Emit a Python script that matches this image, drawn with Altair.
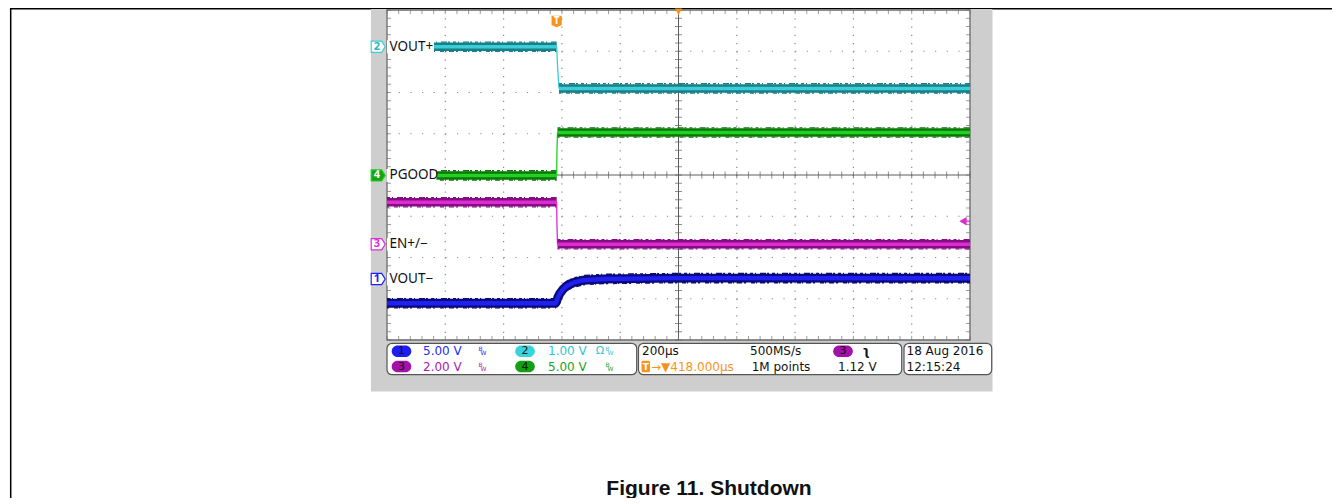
import altair as alt
import pandas as pd
import numpy as np

# ---------------- data (time in µs from trigger, amplitude in screen divisions) ----------------
SCREEN_T = [-582, 1418]          # 10 div x 200 µs, screen centre at +418 µs
SCREEN_DIV = [-4, 4]             # 8 vertical divisions
CENTER_T = 418
MAJOR_T = [-382, -182, 18, 218, 618, 818, 1018, 1218]
MAJOR_DIV = [-3, -2, -1, 1, 2, 3]
MINOR_T = list(np.arange(-582, 1418.5, 40.0))
MINOR_DIV = list(np.round(np.arange(-4, 4.01, 0.2), 2))

# CH2  VOUT+  (cyan)
CH2_PRE_T, CH2_PRE_V = [-582, 0], [3.11, 3.11]
CH2_STEP_T, CH2_STEP_V = [0, 3, 8], [3.11, 2.65, 2.10]
CH2_POST_T, CH2_POST_V = [8, 1418], [2.10, 2.10]
# CH4  PGOOD  (green)
CH4_PRE_T, CH4_PRE_V = [-582, 0], [-0.01, -0.01]
CH4_STEP_T, CH4_STEP_V = [0, 1, 3], [-0.01, 0.6, 1.03]
CH4_POST_T, CH4_POST_V = [3, 1418], [1.03, 1.03]
# CH3  EN+/-  (magenta)
CH3_PRE_T, CH3_PRE_V = [-582, 0], [-0.66, -0.66]
CH3_STEP_T, CH3_STEP_V = [0, 1, 3], [-0.66, -1.2, -1.68]
CH3_POST_T, CH3_POST_V = [3, 1418], [-1.68, -1.68]
# CH1  VOUT-  (blue)
CH1_T = [-582, -4, 0, 4, 11, 22, 34, 57, 91, 160, 400, 1418]
CH1_V = [-3.11, -3.11, -3.06, -2.97, -2.87, -2.77, -2.69, -2.61, -2.55, -2.52, -2.50, -2.50]
CH3_TRIG_LEVEL = -1.12

CH_NUM = ["2", "4", "3", "1"]
CH_LABEL = ["VOUT+", "PGOOD", "EN+/\u2212", "VOUT\u2212"]
CH_MARK_DIV = [3.11, -0.01, -1.68, -2.52]

CAPTION = "Figure 11. Shutdown"

# ---------------- styling ----------------
CYAN, CYAN_D = "#3ccdd6", "#177f88"
GREEN, GREEN_D = "#22d022", "#0a760a"
MAG, MAG_D = "#dc2cd4", "#860c82"
BLUE, BLUE_D = "#2020f2", "#0a0a78"
ORANGE = "#f7941d"
FONT = "Noto Sans"
SFONT = "DejaVu Sans"

xs = alt.Scale(domain=SCREEN_T, nice=False, zero=False)
ys = alt.Scale(domain=SCREEN_DIV, nice=False, zero=False)
X = lambda f="t": alt.X(f"{f}:Q", scale=xs, axis=None)
Y = lambda f="v": alt.Y(f"{f}:Q", scale=ys, axis=None)
PX = lambda f="x": alt.X(f"{f}:Q", scale=None, axis=None)
PY = lambda f="y": alt.Y(f"{f}:Q", scale=None, axis=None)
one = pd.DataFrame({"a": [0]})

layers = []


def px_rect(x, x2, y, y2, **mark):
    df = pd.DataFrame({"x": [x], "x2": [x2], "y": [y], "y2": [y2]})
    return alt.Chart(df).mark_rect(**mark).encode(x=PX(), x2="x2:Q", y=PY(), y2="y2:Q")


def px_text(rows, **mark):
    df = pd.DataFrame(rows, columns=["x", "y", "text", "color"])
    return alt.Chart(df).mark_text(**mark).encode(
        x=PX(), y=PY(), text="text:N", color=alt.Color("color:N", scale=None))


# page frame lines (PDF page)
layers.append(alt.Chart(one).mark_rule(color="#000", strokeWidth=1.5).encode(
    x=alt.value(-376.3), y=alt.value(-2), y2=alt.value(488)))
layers.append(alt.Chart(one).mark_rule(color="#000", strokeWidth=1.5).encode(
    x=alt.value(-377), x2=alt.value(945), y=alt.value(-1.3)))

# scope screen gray panel
layers.append(px_rect(-16, 605.5, -1, 381.5, color="#cecece"))
# graticule background
layers.append(alt.Chart(pd.DataFrame({"t": [SCREEN_T[0]], "t2": [SCREEN_T[1]], "v": [SCREEN_DIV[0]], "v2": [SCREEN_DIV[1]]}))
              .mark_rect(color="white").encode(x=X(), x2="t2:Q", y=Y(), y2="v2:Q"))

# dotted grid
layers.append(alt.Chart(pd.DataFrame({"t": MAJOR_T})).mark_rule(
    color="#8a8a8a", strokeWidth=1.2, strokeDash=[1.2, 7.05]).encode(
    x=X(), y=alt.value(0), y2=alt.value(330)))
layers.append(alt.Chart(pd.DataFrame({"v": MAJOR_DIV})).mark_rule(
    color="#8a8a8a", strokeWidth=1.2, strokeDash=[1.2, 10.46]).encode(
    y=Y(), x=alt.value(0), x2=alt.value(583)))
# centre cross
layers.append(alt.Chart(pd.DataFrame({"t": [CENTER_T]})).mark_rule(color="#5c5c5c", strokeWidth=1).encode(
    x=X(), y=alt.value(0), y2=alt.value(330)))
layers.append(alt.Chart(pd.DataFrame({"v": [0]})).mark_rule(color="#5c5c5c", strokeWidth=1).encode(
    y=Y(), x=alt.value(0), x2=alt.value(583)))
mt = pd.DataFrame({"t": MINOR_T})
md = pd.DataFrame({"v": MINOR_DIV})
layers.append(alt.Chart(md).mark_tick(orient="horizontal", size=7, thickness=1, color="#5c5c5c").encode(
    x=alt.X(datum=CENTER_T, scale=xs, axis=None), y=Y()))
layers.append(alt.Chart(mt).mark_tick(orient="vertical", size=7, thickness=1, color="#5c5c5c").encode(
    x=X(), y=alt.Y(datum=0, scale=ys, axis=None)))
# border ticks
layers.append(alt.Chart(mt).mark_tick(orient="vertical", size=4, thickness=1, color="#707070", yOffset=2).encode(
    x=X(), y=alt.Y(datum=SCREEN_DIV[1], scale=ys, axis=None)))
layers.append(alt.Chart(mt).mark_tick(orient="vertical", size=4, thickness=1, color="#707070", yOffset=-2).encode(
    x=X(), y=alt.Y(datum=SCREEN_DIV[0], scale=ys, axis=None)))
layers.append(alt.Chart(md).mark_tick(orient="horizontal", size=4, thickness=1, color="#707070", xOffset=2).encode(
    x=alt.X(datum=SCREEN_T[0], scale=xs, axis=None), y=Y()))
layers.append(alt.Chart(md).mark_tick(orient="horizontal", size=4, thickness=1, color="#707070", xOffset=-2).encode(
    x=alt.X(datum=SCREEN_T[1], scale=xs, axis=None), y=Y()))
# frame
layers.append(alt.Chart(pd.DataFrame({"t": [SCREEN_T[0]], "t2": [SCREEN_T[1]], "v": [SCREEN_DIV[0]], "v2": [SCREEN_DIV[1]]}))
              .mark_rect(fillOpacity=0, stroke="#6a6a6a", strokeWidth=1.3).encode(x=X(), x2="t2:Q", y=Y(), y2="v2:Q"))


def band(t, v, core, edge, w_edge=8.5, w_core=3.5):
    base = alt.Chart(pd.DataFrame({"t": t, "v": v})).encode(x=X(), y=Y())
    return [
        base.mark_line(color=edge, strokeWidth=w_edge, strokeCap="butt", strokeJoin="round"),
        base.mark_line(color=edge, strokeWidth=1.4, yOffset=-4.6, strokeDash=[3, 2, 1, 4, 6, 1, 2, 3], strokeCap="butt"),
        base.mark_line(color=edge, strokeWidth=1.4, yOffset=4.6, strokeDash=[2, 5, 4, 1, 1, 3, 5, 2], strokeCap="butt"),
        base.mark_line(color=core, strokeWidth=w_core, strokeCap="butt", strokeJoin="round"),
    ]


def step(t, v, core):
    return alt.Chart(pd.DataFrame({"t": t, "v": v})).mark_line(color=core, strokeWidth=1.3).encode(x=X(), y=Y())


layers += band(CH2_PRE_T, CH2_PRE_V, CYAN, CYAN_D) + [step(CH2_STEP_T, CH2_STEP_V, CYAN)] + band(CH2_POST_T, CH2_POST_V, CYAN, CYAN_D)
layers += band(CH4_PRE_T, CH4_PRE_V, GREEN, GREEN_D) + [step(CH4_STEP_T, CH4_STEP_V, GREEN)] + band(CH4_POST_T, CH4_POST_V, GREEN, GREEN_D)
layers += band(CH3_PRE_T, CH3_PRE_V, MAG, MAG_D) + [step(CH3_STEP_T, CH3_STEP_V, MAG)] + band(CH3_POST_T, CH3_POST_V, MAG, MAG_D)
layers += band(CH1_T, CH1_V, BLUE, BLUE_D, w_edge=9, w_core=4.5)

# channel labels on the graticule
lab = pd.DataFrame({
    "num": CH_NUM, "label": CH_LABEL, "v": CH_MARK_DIV,
    "col": [CYAN, GREEN, MAG, BLUE],
    "fill": ["white", "#17a317", "white", "white"],
    "numcol": ["#2ab8c2", "white", MAG, BLUE],
    "x": [-8.8] * 4, "tx": [2.5] * 4, "nx": [-10] * 4,
})
for i, (bgx, bgw) in enumerate([(23.5, 47), (24.5, 50), (23, 46), (23, 46)]):
    layers.append(alt.Chart(lab.iloc[[i]]).mark_tick(orient="vertical", size=13, thickness=bgw, color="white", opacity=1).encode(
        x=alt.value(bgx), y=Y()))
layers.append(alt.Chart(lab).mark_text(align="left", baseline="middle", font=FONT, fontSize=13.5, color="#111").encode(
    x=PX("tx"), y=Y(), text="label:N"))
layers.append(alt.Chart(lab).mark_point(
    shape="M-1,-0.8L0.5,-0.8L1,0L0.5,0.8L-1,0.8Z", size=196, filled=True, strokeWidth=1.2, opacity=1).encode(
    x=PX("x"), y=Y(), fill=alt.Color("fill:N", scale=None), stroke=alt.Stroke("col:N", scale=None)))
layers.append(alt.Chart(lab).mark_text(align="center", baseline="middle", font=FONT, fontSize=11, fontWeight="bold").encode(
    x=PX("nx"), y=Y(), text="num:N", color=alt.Color("numcol:N", scale=None)))

# trigger position marker "T", horizontal-position marker, trigger level arrow
layers.append(alt.Chart(one).mark_point(shape="M-0.9,-1L0.9,-1L0.9,0.6L0,1L-0.9,0.6Z", size=130, filled=True, color=ORANGE, opacity=1).encode(
    x=alt.X(datum=0, scale=xs, axis=None), y=alt.value(11.5)))
layers.append(alt.Chart(one).mark_text(text="T", font=FONT, fontSize=10, fontWeight="bold", color="white").encode(
    x=alt.X(datum=0, scale=xs, axis=None), y=alt.value(10.8)))
layers.append(alt.Chart(one).mark_point(shape="triangle-down", size=55, filled=True, color=ORANGE, opacity=1).encode(
    x=alt.X(datum=CENTER_T, scale=xs, axis=None), y=alt.value(1.8)))
layers.append(alt.Chart(one).mark_point(shape="triangle-left", size=70, filled=True, color=MAG, opacity=1, xOffset=-7).encode(
    x=alt.X(datum=SCREEN_T[1], scale=xs, axis=None), y=alt.Y(datum=CH3_TRIG_LEVEL, scale=ys, axis=None)))
layers.append(alt.Chart(one).mark_tick(orient="horizontal", size=6, thickness=2, color=MAG, xOffset=-3).encode(
    x=alt.X(datum=SCREEN_T[1], scale=xs, axis=None), y=alt.Y(datum=CH3_TRIG_LEVEL, scale=ys, axis=None)))

# ---------------- status bar ----------------
R1, R2 = 341.2, 356.5
SFS = 12
for x0, x1 in [(0, 249.7), (251.5, 514.7), (517, 604.7)]:
    layers.append(px_rect(x0, x1, 333.3, 364.7, fill="white", stroke="#555", strokeWidth=1.2, cornerRadius=5))
for cx, cy, col in [(14.5, R1, "#1e1ef0"), (14.5, R2, "#a012a8"), (138, R1, "#38d4dc"), (138, R2, "#12a012"), (456, R1, "#a012a8")]:
    layers.append(px_rect(cx - 9.8, cx + 9.8, cy - 5.8, cy + 5.8, color=col, cornerRadius=5.8))
layers.append(px_text([(14.5, R1, "1", "#101030"), (14.5, R2, "3", "#200020"), (138, R1, "2", "#102020"),
                       (138, R2, "4", "#002000"), (456, R1, "3", "#200020")],
                      align="center", baseline="middle", font=SFONT, fontSize=11))
layers.append(px_text([(36, R1, "5.00 V", "#2a2af5"), (36, R2, "2.00 V", "#a51cac"),
                       (161, R1, "1.00 V", "#34c6cf"), (161, R2, "5.00 V", "#1ea01e"),
                       (255, R1, "200\u00b5s", "#111"), (363, R1, "500MS/s", "#111"),
                       (364.7, R2, "1M points", "#111"), (451, R2, "1.12 V", "#111"),
                       (519.5, R1, "18 Aug 2016", "#111"), (519.5, R2, "12:15:24", "#111"),
                       (264, R2, "\u2192\u25bc418.000\u00b5s", ORANGE)],
                      align="left", baseline="middle", font=SFONT, fontSize=SFS))
layers.append(px_text([(213, R1, "\u03a9", "#34c6cf")], align="center", baseline="middle", font=SFONT, fontSize=11))
layers.append(px_text([(479, R1, "\u0285", "#111")], align="center", baseline="middle", font=SFONT, fontSize=12, fontWeight="bold"))
bw = []
for bx, by, col in [(95, R1, "#2a2af5"), (95, R2, "#a51cac"), (222, R1, "#34c6cf"), (222, R2, "#1ea01e")]:
    bw += [(bx - 1.5, by - 2, "B", col), (bx + 1.5, by + 2.2, "W", col)]
layers.append(px_text(bw, align="center", baseline="middle", font=SFONT, fontSize=6))
layers.append(px_rect(254.5, 263, R2 - 5.8, R2 + 5.8, color=ORANGE, cornerRadius=1.5))
layers.append(px_text([(258.7, R2, "T", "white")], align="center", baseline="middle", font=SFONT, fontSize=9, fontWeight="bold"))

# caption
layers.append(px_text([(322, 485, CAPTION, "#111")], align="center", baseline="alphabetic",
                      font="Liberation Sans", fontSize=21, fontWeight="bold"))

chart = alt.layer(*layers).resolve_scale(
    x="independent", y="independent", color="independent",
    fill="independent", stroke="independent").properties(
    width=583, height=330,
    padding={"left": 379, "top": 2, "right": 362, "bottom": 158},
    autosize=alt.AutoSizeParams(type="none"),
    background="white",
).configure_view(stroke=None)

chart.save("out.html", embed_options={"renderer": "svg", "actions": False})
